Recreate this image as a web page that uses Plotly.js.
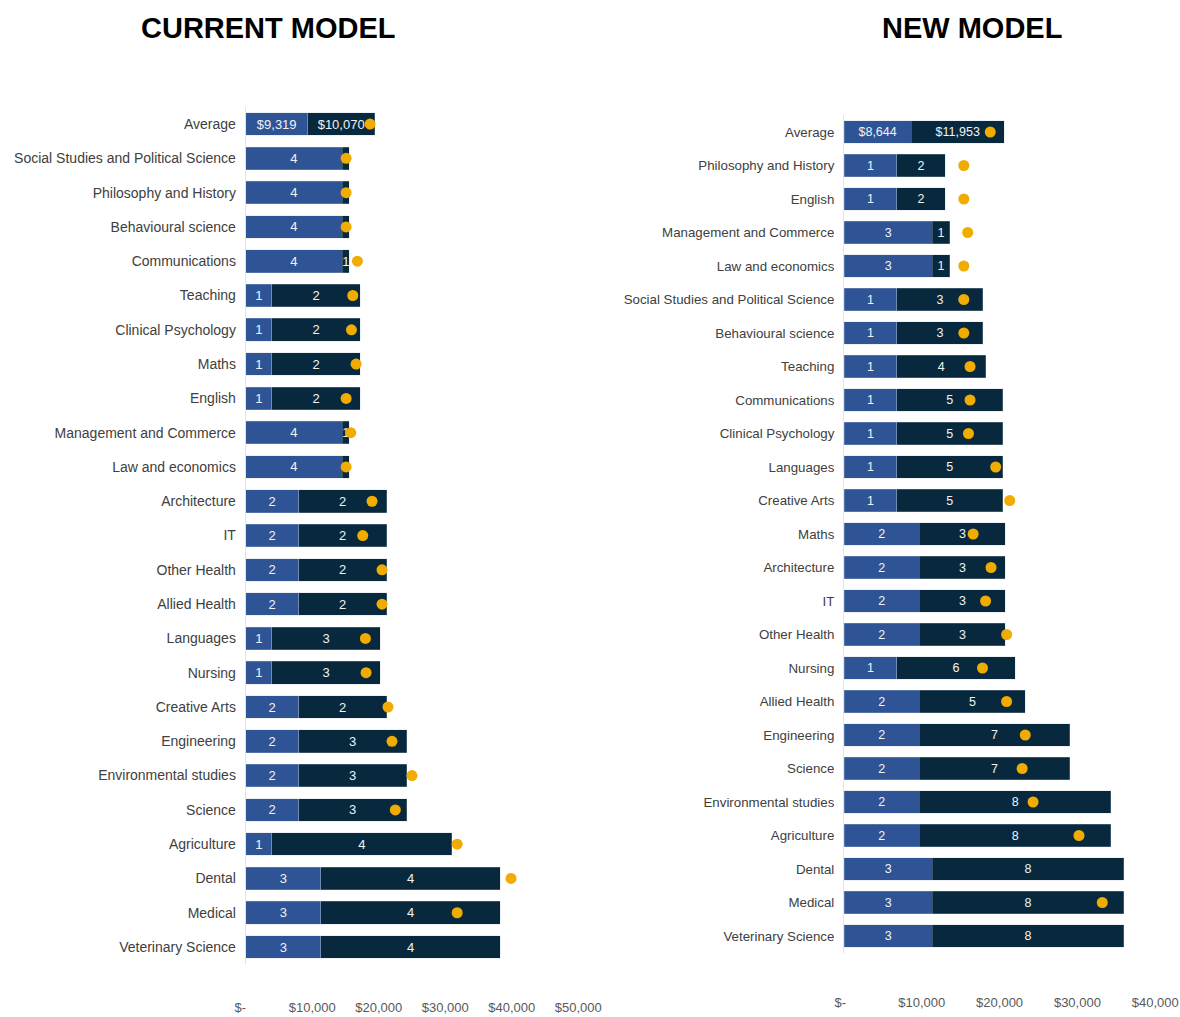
<!DOCTYPE html>
<html>
<head>
<meta charset="utf-8">
<script src="https://cdn.plot.ly/plotly-3.0.1.min.js"></script>
<style>
  html, body { margin: 0; padding: 0; background: #ffffff; }
  #chart { width: 1180px; height: 1017px; }
</style>
</head>
<body>
<div id="chart"></div>
<script>
// ---------------- DATA ----------------
// Current model (left panel), top to bottom
const currentCategories = ['Average','Social Studies and Political Science','Philosophy and History','Behavioural science','Communications','Teaching','Clinical Psychology','Maths','English','Management and Commerce','Law and economics','Architecture','IT','Other Health','Allied Health','Languages','Nursing','Creative Arts','Engineering','Environmental studies','Science','Agriculture','Dental','Medical','Veterinary Science'];
const currentStudent = [9319, 14500, 14500, 14500, 14500, 3950, 3950, 3950, 3950, 14500, 14500, 7950, 7950, 7950, 7950, 3950, 3950, 7950, 7950, 7950, 7950, 3950, 11300, 11300, 11300];
const currentGov = [10070, 1100, 1100, 1100, 1100, 13250, 13250, 13250, 13250, 1100, 1100, 13250, 13250, 13250, 13250, 16250, 16250, 13250, 16250, 16250, 16250, 27000, 27000, 27000, 27000];
const currentStudentLabels = ['$9,319','4','4','4','4','1','1','1','1','4','4','2','2','2','2','1','1','2','2','2','2','1','3','3','3'];
const currentGovLabels = ['$10,070','1','1','1','1','2','2','2','2','1','1','2','2','2','2','3','3','2','3','3','3','4','4','4','4'];
const currentCost = [18700, 15100, 15100, 15100, 16800, 16100, 15900, 16600, 15100, 15800, 15100, 19000, 17600, 20500, 20500, 18000, 18100, 21400, 22000, 25000, 22500, 31800, 39900, 31800, null];

// New model (right panel), top to bottom
const newCategories = ['Average','Philosophy and History','English','Management and Commerce','Law and economics','Social Studies and Political Science','Behavioural science','Teaching','Communications','Clinical Psychology','Languages','Creative Arts','Maths','Architecture','IT','Other Health','Nursing','Allied Health','Engineering','Science','Environmental studies','Agriculture','Dental','Medical','Veterinary Science'];
const newStudent = [8644, 6800, 6800, 11350, 11350, 6800, 6800, 6800, 6800, 6800, 6800, 6800, 9700, 9700, 9700, 9700, 6800, 9700, 9700, 9700, 9700, 9700, 11350, 11350, 11350];
const newGov = [11953, 6200, 6200, 2250, 2250, 11050, 11050, 11400, 13600, 13600, 13600, 13600, 11050, 11050, 11050, 11050, 15200, 13600, 19300, 19300, 24600, 24600, 24600, 24600, 24600];
const newStudentLabels = ['$8,644','1','1','3','3','1','1','1','1','1','1','1','2','2','2','2','1','2','2','2','2','2','3','3','3'];
const newGovLabels = ['$11,953','2','2','1','1','3','3','4','5','5','5','5','3','3','3','3','6','5','7','7','8','8','8','8','8'];
const newCost = [18800, 15400, 15400, 15900, 15400, 15400, 15400, 16200, 16200, 16000, 19500, 21300, 16600, 18900, 18200, 20900, 17800, 20900, 23300, 22900, 24300, 30200, 40700, 33200, null];

// Axis ticks
const currentTickVals = [0, 10000, 20000, 30000, 40000, 50000];
const currentTickText = ['$-\u00a0\u00a0\u00a0', '$10,000', '$20,000', '$30,000', '$40,000', '$50,000'];
const newTickVals = [0, 10000, 20000, 30000, 40000];
const newTickText = ['$-\u00a0\u00a0', '$10,000', '$20,000', '$30,000', '$40,000'];

const panelTitles = ['CURRENT MODEL', 'NEW MODEL'];

// ---------------- STYLE ----------------
const BLUE = '#2F5496';
const NAVY = '#08293D';
const GOLD = '#F0AC00';
const FONT = 'Arial, "Liberation Sans", sans-serif';
const EDGE = { color: 'rgba(190,200,214,0.55)', width: 0.5 };

function barTrace(x, y, labels, color, xa, ya, fs) {
  return {
    type: 'bar', orientation: 'h', x: x, y: y, text: labels,
    textposition: 'inside', insidetextanchor: 'middle', textangle: 0,
    constraintext: 'none', cliponaxis: false,
    textfont: { family: FONT, size: fs, color: '#f2f2f2' },
    marker: { color: color, line: EDGE },
    xaxis: xa, yaxis: ya, hoverinfo: 'x+y', showlegend: false
  };
}
function dotTrace(x, y, xa, ya) {
  return {
    type: 'scatter', mode: 'markers', x: x, y: y, cliponaxis: false,
    marker: { color: GOLD, size: 11 },
    xaxis: xa, yaxis: ya, showlegend: false
  };
}

const data = [
  barTrace(currentStudent, currentCategories, currentStudentLabels, BLUE, 'x', 'y', 13),
  barTrace(currentGov, currentCategories, currentGovLabels, NAVY, 'x', 'y', 13),
  dotTrace(currentCost, currentCategories, 'x', 'y'),
  barTrace(newStudent, newCategories, newStudentLabels, BLUE, 'x2', 'y2', 12.5),
  barTrace(newGov, newCategories, newGovLabels, NAVY, 'x2', 'y2', 12.5),
  dotTrace(newCost, newCategories, 'x2', 'y2')
];

const H = 1017, W = 1180;
const L = { x0: 245.7, x1: 578.2, top: 106.9, bottom: 964.2 };
const R = { x0: 844, x1: 1155.2, top: 115.25, bottom: 952.75 };

const layout = {
  width: W, height: H,
  margin: { l: 0, r: 0, t: 0, b: 0 },
  paper_bgcolor: '#ffffff', plot_bgcolor: 'rgba(0,0,0,0)',
  barmode: 'stack', bargap: 0.34,
  font: { family: FONT },
  xaxis: {
    domain: [L.x0 / W, L.x1 / W], range: [0, 50000], anchor: 'y',
    showgrid: false, zeroline: false, showline: false, ticks: '',
    tickmode: 'array', tickvals: currentTickVals, ticktext: currentTickText,
    tickfont: { family: FONT, size: 13, color: '#595959' }, ticklabelstandoff: 34
  },
  yaxis: {
    domain: [(H - L.bottom) / H, (H - L.top) / H], anchor: 'x',
    type: 'category', categoryorder: 'array', categoryarray: currentCategories,
    range: [24.5, -0.5], showgrid: false, zeroline: false,
    showline: true, linecolor: '#e3e3e3', linewidth: 1, ticks: '',
    tickfont: { family: FONT, size: 14, color: '#404040' }, ticklabelstandoff: 6
  },
  xaxis2: {
    domain: [R.x0 / W, R.x1 / W], range: [0, 40000], anchor: 'y2',
    showgrid: false, zeroline: false, showline: false, ticks: '',
    tickmode: 'array', tickvals: newTickVals, ticktext: newTickText,
    tickfont: { family: FONT, size: 13, color: '#595959' }, ticklabelstandoff: 40
  },
  yaxis2: {
    domain: [(H - R.bottom) / H, (H - R.top) / H], anchor: 'x2',
    type: 'category', categoryorder: 'array', categoryarray: newCategories,
    range: [24.5, -0.5], showgrid: false, zeroline: false,
    showline: true, linecolor: '#e3e3e3', linewidth: 1, ticks: '',
    tickfont: { family: FONT, size: 13.3, color: '#404040' }, ticklabelstandoff: 6
  },
  annotations: [
    { text: '<b>' + panelTitles[0] + '</b>', xref: 'paper', yref: 'paper',
      x: 268.5 / W, y: 1 - 28 / H, xanchor: 'center', yanchor: 'middle', showarrow: false,
      font: { family: FONT, size: 29, color: '#000000' } },
    { text: '<b>' + panelTitles[1] + '</b>', xref: 'paper', yref: 'paper',
      x: 971.5 / W, y: 1 - 28 / H, xanchor: 'center', yanchor: 'middle', showarrow: false,
      font: { family: FONT, size: 29, color: '#000000' } }
  ]
};

Plotly.newPlot('chart', data, layout, { displayModeBar: false, staticPlot: true });
</script>
</body>
</html>
